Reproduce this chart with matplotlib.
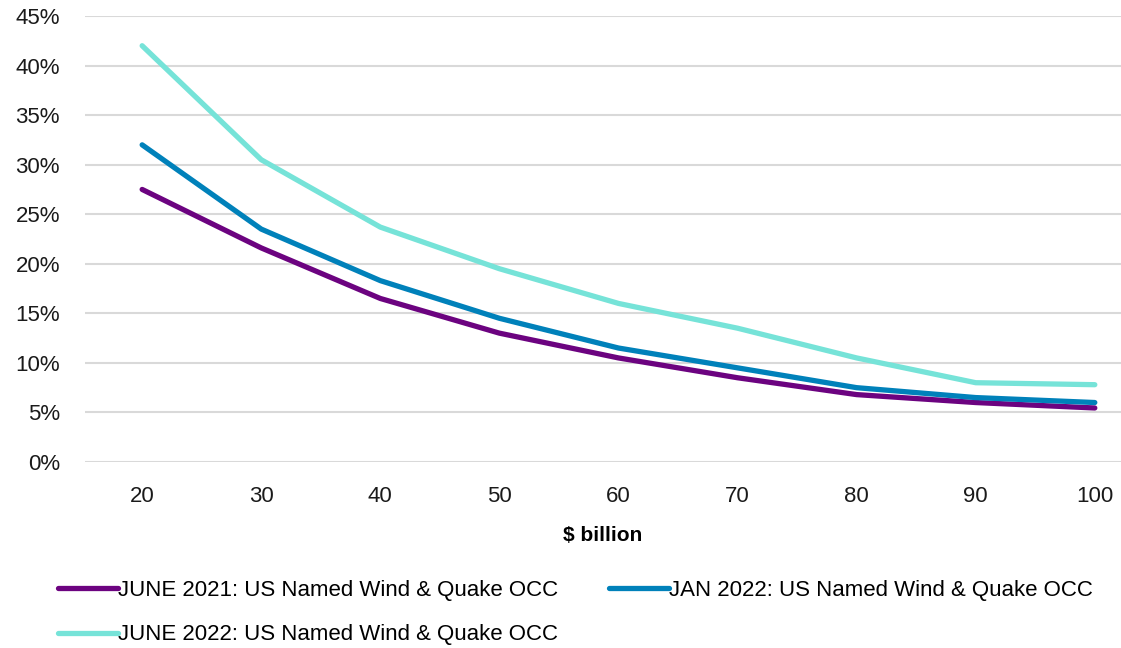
"""
Occurrence exceedance curves for US named wind & quake, three vintages.
"""

import matplotlib.pyplot as plt
from matplotlib.ticker import FuncFormatter

plt.rcParams["font.family"] = ["Liberation Sans", "DejaVu Sans"]

# Loss threshold, $ billion
thresholds = [20, 30, 40, 50, 60, 70, 80, 90, 100]

# Probability (%)
june_2021 = [27.5, 21.6, 16.5, 13.0, 10.5, 8.5, 6.8, 6.0, 5.45]
jan_2022 = [32.0, 23.5, 18.3, 14.5, 11.5, 9.5, 7.5, 6.5, 6.0]
june_2022 = [42.0, 30.5, 23.7, 19.5, 16.0, 13.5, 10.5, 8.0, 7.8]

series_names = [
    "JUNE 2021: US Named Wind & Quake OCC",
    "JAN 2022: US Named Wind & Quake OCC",
    "JUNE 2022: US Named Wind & Quake OCC",
]
series_colors = ["#6c0380", "#0081ba", "#76e3d8"]

y_ticks = [0, 5, 10, 15, 20, 25, 30, 35, 40, 45]


def main():
    fig = plt.figure(figsize=(11.21, 6.48), dpi=100)
    ax = fig.add_axes([85 / 1121, 1 - 462 / 648, 1 - 85 / 1121, 446 / 648])

    positions = range(len(thresholds))
    lines = []
    for values, name, color in zip(
        [june_2021, jan_2022, june_2022], series_names, series_colors
    ):
        (line,) = ax.plot(
            positions,
            values,
            color=color,
            lw=3.8,
            solid_capstyle="round",
            solid_joinstyle="round",
            label=name,
            clip_on=False,
            zorder=3,
        )
        lines.append(line)

    ax.set_xlim(-0.48, 8.22)
    ax.set_ylim(0, 45)
    ax.set_xticks(list(positions))
    ax.set_xticklabels([str(t) for t in thresholds])
    ax.set_yticks(y_ticks)
    ax.yaxis.set_major_formatter(FuncFormatter(lambda v, _: f"{v:.0f}%"))

    ax.grid(axis="y", color="#d9d9d9", lw=1.5)
    ax.set_axisbelow(True)
    for spine in ax.spines.values():
        spine.set_visible(False)
    ax.tick_params(axis="both", length=0, labelsize=16, colors="#1a1a1a")
    ax.tick_params(axis="x", pad=17)
    ax.tick_params(axis="y", pad=18)

    ax.set_xlabel("\\$ billion", fontsize=15, fontweight="bold", labelpad=14)

    # legend fills column-first, so order handles to read row by row
    order = [0, 2, 1]
    fig.legend(
        [lines[i] for i in order],
        [series_names[i] for i in order],
        loc="upper left",
        bbox_to_anchor=(58 / 1121, 1 - 580 / 648),
        ncol=2,
        frameon=False,
        fontsize=16,
        handlelength=2.7,
        handletextpad=0.0,
        columnspacing=2.3,
        labelspacing=1.05,
        borderaxespad=0,
        borderpad=0,
    )

    fig.savefig("out.png", dpi=100)


if __name__ == "__main__":
    main()
